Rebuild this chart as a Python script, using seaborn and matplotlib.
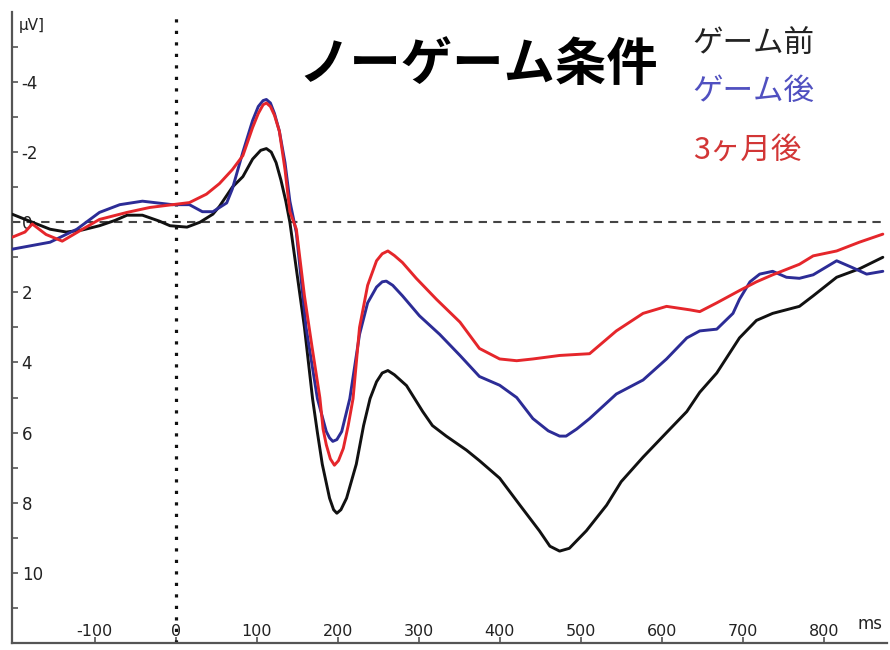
import numpy as np
import pandas as pd
import matplotlib
matplotlib.use("Agg")
import matplotlib.pyplot as plt
import seaborn as sns

# ERP waveforms (ms, μV; negative plotted upward)
pre_t = [-202, -177, -155, -135, -115, -94, -75, -60, -41, -20, -7, 14, 30, 46, 54, 70, 83, 95, 105,
         112, 118, 124, 130, 136, 141, 159, 169, 175, 181, 190, 195, 199, 204, 211, 223, 232, 240,
         248, 255, 262, 270, 285, 305, 317, 334, 359, 375, 400, 425, 449, 462, 474, 486, 507, 532,
         550, 577, 606, 631, 647, 668, 696, 717, 737, 770, 787, 816, 844, 873]
pre_v = [-0.23, 0.0, 0.2, 0.28, 0.22, 0.1, -0.05, -0.2, -0.2, -0.03, 0.1, 0.14, 0.0, -0.23, -0.45,
         -1.0, -1.3, -1.8, -2.05, -2.1, -2.0, -1.7, -1.2, -0.6, 0.0, 3.0, 5.03, 6.0, 6.9, 7.87, 8.2,
         8.3, 8.2, 7.87, 6.9, 5.8, 5.03, 4.55, 4.3, 4.23, 4.35, 4.66, 5.4, 5.8, 6.1, 6.5, 6.8, 7.3,
         8.07, 8.8, 9.24, 9.38, 9.3, 8.8, 8.07, 7.4, 6.7, 6.0, 5.4, 4.85, 4.3, 3.3, 2.8, 2.6, 2.4,
         2.1, 1.57, 1.33, 1.0]

post_t = [-202, -155, -122, -94, -69, -41, -4, 17, 33, 46, 63, 70, 83, 95, 102, 108, 112, 117, 122,
          128, 135, 141, 149, 161, 175, 186, 190, 194, 199, 205, 215, 227, 237, 248, 255, 260, 268,
          280, 301, 326, 351, 375, 400, 421, 441, 460, 474, 482, 495, 511, 544, 577, 606, 631, 647,
          668, 688, 696, 709, 721, 737, 754, 770, 787, 816, 836, 853, 873]
post_v = [0.77, 0.57, 0.2, -0.28, -0.5, -0.6, -0.5, -0.5, -0.3, -0.3, -0.55, -0.95, -2.0, -2.9,
          -3.3, -3.47, -3.5, -3.4, -3.1, -2.6, -1.7, -0.6, 0.3, 3.0, 5.03, 5.97, 6.15, 6.25, 6.2,
          5.97, 5.03, 3.2, 2.3, 1.85, 1.7, 1.68, 1.8, 2.1, 2.67, 3.2, 3.8, 4.4, 4.65, 5.0, 5.6, 5.95,
          6.1, 6.1, 5.9, 5.6, 4.9, 4.5, 3.9, 3.3, 3.1, 3.05, 2.6, 2.2, 1.7, 1.48, 1.4, 1.57, 1.6, 1.5,
          1.1, 1.3, 1.48, 1.4]

later_t = [-202, -186, -177, -160, -140, -115, -94, -60, -32, -4, 17, 38, 54, 70, 83, 95, 102, 108,
           112, 117, 122, 128, 135, 141, 149, 159, 168, 178, 182, 186, 191, 196, 201, 207, 213, 219,
           227, 237, 248, 255, 262, 270, 280, 297, 322, 351, 375, 400, 421, 441, 474, 511, 544, 577,
           606, 635, 647, 668, 696, 717, 737, 770, 787, 816, 844, 873]
later_v = [0.43, 0.28, 0.05, 0.35, 0.54, 0.2, -0.08, -0.28, -0.42, -0.5, -0.56, -0.8, -1.1, -1.5,
           -1.9, -2.7, -3.1, -3.35, -3.4, -3.3, -3.05, -2.6, -1.5, -0.3, 0.2, 2.1, 3.5, 5.0, 5.9, 6.35,
           6.75, 6.93, 6.8, 6.45, 5.8, 5.03, 3.0, 1.8, 1.1, 0.9, 0.82, 0.95, 1.15, 1.6, 2.2, 2.85, 3.6,
           3.9, 3.95, 3.9, 3.8, 3.75, 3.1, 2.6, 2.4, 2.5, 2.55, 2.3, 1.95, 1.7, 1.5, 1.2, 0.96, 0.82,
           0.57, 0.34]

conditions = ["ゲーム前", "ゲーム後", "3ヶ月後"]
line_colors = ["#111111", "#2c2c96", "#e5262b"]
label_colors = ["#222222", "#5050c0", "#d23636"]
title = "ノーゲーム条件"
x_ticks = [-100, 0, 100, 200, 300, 400, 500, 600, 700, 800]
y_ticks = [-4, -2, 0, 2, 4, 6, 8, 10]

df = pd.concat([
    pd.DataFrame({"time": pre_t, "amp": pre_v, "cond": conditions[0]}),
    pd.DataFrame({"time": post_t, "amp": post_v, "cond": conditions[1]}),
    pd.DataFrame({"time": later_t, "amp": later_v, "cond": conditions[2]}),
])

sns.set_style("ticks")
plt.rcParams["font.family"] = ["DejaVu Sans", "Noto Sans CJK JP"]

fig = plt.figure(figsize=(8.9, 6.5), dpi=100)
ax = fig.add_axes([0.0135, 0.0108, 0.983, 0.971])

ax.axhline(0, color="#444444", linestyle=(0, (4, 3)), linewidth=1.5, zorder=1)
ax.axvline(0, color="#111111", linestyle=(0, (1, 2.6)), linewidth=2.3, zorder=1)

sns.lineplot(data=df, x="time", y="amp", hue="cond", palette=line_colors,
             estimator=None, sort=False, legend=False, linewidth=2.1,
             solid_joinstyle="round", ax=ax, zorder=3)

ax.set_xlim(-202, 878)
ax.set_ylim(12, -6)
ax.set_xlabel("")
ax.set_ylabel("")

for s in ["top", "right"]:
    ax.spines[s].set_visible(False)
for s in ["left", "bottom"]:
    ax.spines[s].set_color("#555555")
    ax.spines[s].set_linewidth(1.6)

ax.set_xticks(x_ticks)
ax.set_xticklabels([str(v) for v in x_ticks])
ax.set_yticks(y_ticks)
ax.set_yticklabels([str(v) for v in y_ticks])
ax.set_yticks(np.arange(-5, 12, 2), minor=True)
ax.tick_params(axis="both", which="both", direction="in", length=4, width=1.2,
               color="#555555", labelsize=12, labelcolor="#222222")
ax.tick_params(axis="y", pad=-7)
ax.tick_params(axis="x", labelsize=11.5, pad=-3)
for lbl in ax.get_yticklabels():
    lbl.set_horizontalalignment("left")
for lbl in ax.get_xticklabels():
    lbl.set_verticalalignment("bottom")

ax.text(857, 11.45, "ms", fontsize=12, color="#222222", ha="center", va="center")
ax.text(-194, -5.6, "μV]", fontsize=11, color="#222222", ha="left", va="center")

cjk = ["Noto Sans CJK JP", "DejaVu Sans"]
ax.text(0.533, 0.916, title, transform=ax.transAxes, fontsize=37, fontweight="bold",
        family=cjk, color="black", ha="center", va="center")
for name, col, ypos in zip(conditions, label_colors, [0.948, 0.873, 0.781]):
    ax.text(0.778, ypos, name, transform=ax.transAxes, fontsize=22,
            family=cjk, color=col, ha="left", va="center")

fig.savefig("out.png", dpi=100)
plt.close(fig)
